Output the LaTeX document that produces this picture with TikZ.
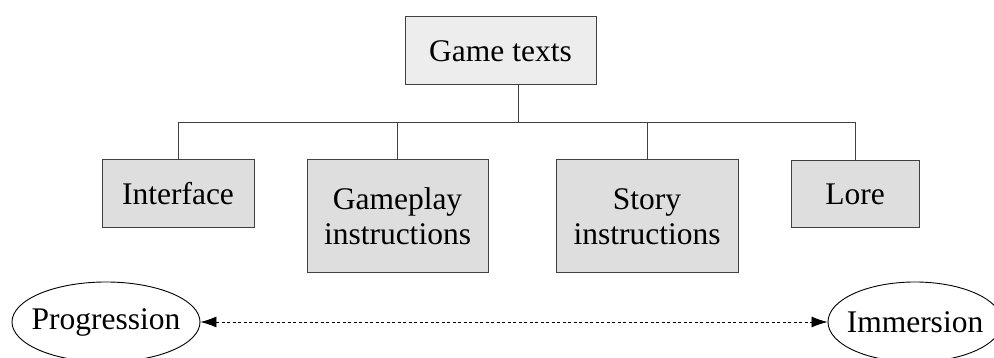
\documentclass[tikz,border=0pt]{standalone}
\usepackage{fontspec}
\setmainfont{Liberation Serif}
\usetikzlibrary{arrows.meta,shapes.geometric}
\begin{document}
\begin{tikzpicture}[x=1pt,y=1pt,
  every node/.style={font=\fontsize{31.5}{35}\selectfont, inner sep=0pt, align=center},
  box/.style={draw=black!75, line width=1pt, fill=black!13, rectangle},
  topbox/.style={box, fill=black!7},
  oval/.style={draw=black, line width=0.9pt, ellipse},
  link/.style={draw=black!75, line width=1pt},
  bigtip/.tip={Latex[length=16pt,width=11pt]},
  dashlink/.style={draw=black, line width=0.8pt, dash pattern=on 3pt off 2.5pt, bigtip-bigtip}
]
\useasboundingbox (0,0) rectangle (994,358);
\node[topbox, minimum width=191, minimum height=68] (gt) at (500.5,307) {Game texts};
\node[box, minimum width=152, minimum height=68] (if) at (178,164) {Interface};
\node[box, minimum width=181, minimum height=113] (gp) at (397.5,141.5) {Gameplay\\instructions};
\node[box, minimum width=182, minimum height=113] (st) at (647,141.5) {Story\\instructions};
\node[box, minimum width=128, minimum height=67] (lo) at (855,164) {Lore};
\coordinate (b) at (518,235);
\draw[link] (gt.south -| b) -- (b);
\draw[link] (b) -| (if.north);
\draw[link] (b) -| (lo.north);
\draw[link] (gp.north |- b) -- (gp.north);
\draw[link] (st.north |- b) -- (st.north);
\node[oval, minimum width=188, minimum height=80] (pr) at (106,36) {};
\node (prt) at (pr.center) {Progression};
\node[oval, minimum width=174, minimum height=80] (im) at (915,36) {};
\node (imt) at (im.center) {Immersion};
\draw[dashlink] (pr) -- (im);
\end{tikzpicture}
\end{document}
